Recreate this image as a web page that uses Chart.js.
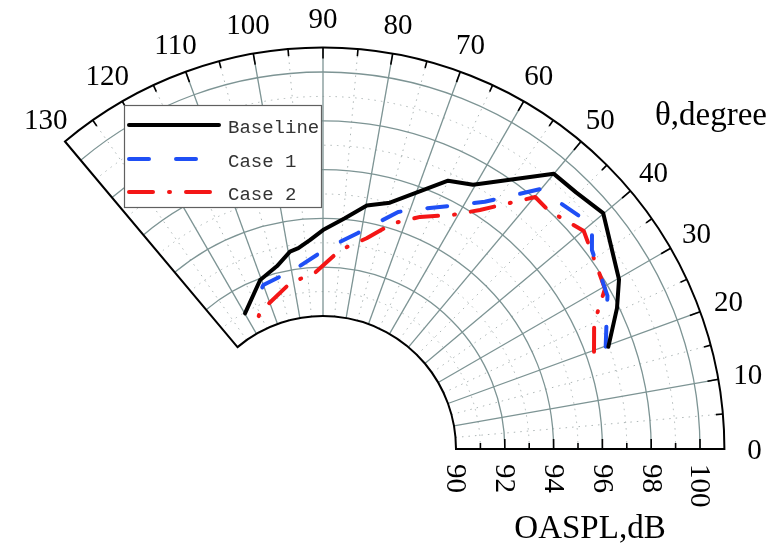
<!DOCTYPE html>
<html>
<head>
<meta charset="utf-8">
<script src="https://cdn.jsdelivr.net/npm/chart.js@4.4.0/dist/chart.umd.min.js"></script>
<style>
  html, body { margin: 0; padding: 0; background: #fff; }
</style>
</head>
<body>
<canvas id="polarChart" width="774" height="546"></canvas>
<script>
// --- Data: theta in degrees, OASPL in dB ---
const baselineTheta = [19.7, 25.6, 29.8, 40.1, 45.4, 50.0, 60.4, 65.0, 74.8, 79.8, 84.6, 90.0, 93.6, 97.0, 99.5, 104.1, 110.4, 119.9];
const baselineDb    = [96.97, 97.91, 98.53, 99.56, 99.32, 99.27, 97.00, 96.68, 95.01, 94.69, 94.05, 93.52, 93.13, 92.84, 92.75, 92.28, 91.94, 90.96];

const case1Theta = [19.9, 28.3, 36.5, 39.8, 50.1, 56.8, 62.4, 69.0, 72.4, 80.8, 88.9, 97.2, 99.7, 102.9, 110.0, 115.0, 117.0];
const case1Db    = [96.87, 97.79, 98.26, 98.90, 98.43, 96.66, 95.79, 95.07, 94.74, 93.52, 92.77, 92.11, 92.20, 91.86, 91.70, 91.14, 91.04];

const case2Theta = [19.75, 24.9, 29.6, 39.9, 46.5, 49.9, 56.7, 61.2, 67.3, 72.7, 78.3, 85.1, 92.6, 101.2, 114.7, 119.4];
const case2Db    = [96.35, 96.80, 97.84, 98.48, 98.00, 98.05, 96.27, 95.49, 94.86, 94.24, 93.37, 92.73, 91.78, 91.48, 90.73, 90.23];

const seriesNames = ["Baseline", "Case 1", "Case 2"];
const thetaTicks = [0, 10, 20, 30, 40, 50, 60, 70, 80, 90, 100, 110, 120, 130];
const dbTicks = [90, 92, 94, 96, 98, 100];
const thetaTitle = "\u03b8,degree";
const dbTitle = "OASPL,dB";

// --- Geometry of the sector ---
const W = 774, H = 546;
const CX = 323, CY = 449;        // pixel position of the polar origin
const PX_PER_DB = 24.4;
const R_MIN = 90, R_MAX = 101;
const HOLE = 133 / PX_PER_DB;    // 90 dB sits this far from the origin
const THETA_MAX = 130;

function toPoints(thetas, dbs){
    return thetas.map((t, i) => {
        let r = dbs[i] - R_MIN + HOLE;
        let a = t * Math.PI / 180;
        return {x: r * Math.cos(a), y: r * Math.sin(a)};
    });
}

const rad = d => -d * Math.PI / 180;

// --- Grid, frame, ticks and labels ---
const polarFrame = {
    id: 'polarFrame',
    beforeDatasetsDraw(chart){
        const ctx = chart.ctx;
        const xs = chart.scales.x, ys = chart.scales.y;
        const cx = xs.getPixelForValue(0), cy = ys.getPixelForValue(0);
        const rpx = db => xs.getPixelForValue(db - R_MIN + HOLE) - cx;
        const r0 = rpx(R_MIN), r1 = rpx(R_MAX);

        ctx.save();

        // dotted minor grid
        ctx.strokeStyle = '#adb6b6';
        ctx.lineWidth = 1;
        ctx.setLineDash([1.5, 5]);
        for (let db = 91; db < R_MAX; db += 2){
            ctx.beginPath();
            ctx.arc(cx, cy, rpx(db), 0, rad(THETA_MAX), true);
            ctx.stroke();
        }
        for (let t = 5; t < THETA_MAX; t += 10){
            ctx.beginPath();
            ctx.moveTo(cx + r0 * Math.cos(rad(t)), cy + r0 * Math.sin(rad(t)));
            ctx.lineTo(cx + r1 * Math.cos(rad(t)), cy + r1 * Math.sin(rad(t)));
            ctx.stroke();
        }
        ctx.setLineDash([]);

        // major grid
        ctx.strokeStyle = '#7d9494';
        ctx.lineWidth = 1.3;
        dbTicks.forEach(db => {
            if (db === R_MIN) return;
            ctx.beginPath();
            ctx.arc(cx, cy, rpx(db), 0, rad(THETA_MAX), true);
            ctx.stroke();
        });
        for (let t = 10; t < THETA_MAX; t += 10){
            ctx.beginPath();
            ctx.moveTo(cx + r0 * Math.cos(rad(t)), cy + r0 * Math.sin(rad(t)));
            ctx.lineTo(cx + r1 * Math.cos(rad(t)), cy + r1 * Math.sin(rad(t)));
            ctx.stroke();
        }

        // black frame
        ctx.strokeStyle = '#000';
        ctx.lineWidth = 2;
        ctx.beginPath();
        ctx.arc(cx, cy, r1, 0, rad(THETA_MAX), true);
        ctx.lineTo(cx + r0 * Math.cos(rad(THETA_MAX)), cy + r0 * Math.sin(rad(THETA_MAX)));
        ctx.arc(cx, cy, r0, rad(THETA_MAX), 0, false);
        ctx.closePath();
        ctx.stroke();

        // ticks on outer arc (every 5 deg, pointing inward)
        ctx.lineWidth = 1.6;
        for (let t = 5; t < THETA_MAX; t += 5){
            let len = t % 10 === 0 ? 11 : 7;
            let a = rad(t);
            ctx.beginPath();
            ctx.moveTo(cx + r1 * Math.cos(a), cy + r1 * Math.sin(a));
            ctx.lineTo(cx + (r1 - len) * Math.cos(a), cy + (r1 - len) * Math.sin(a));
            ctx.stroke();
        }
        // ticks on the radial axis (every 1 dB, pointing up)
        for (let db = R_MIN + 1; db < R_MAX; db++){
            let len = db % 2 === 0 ? 10 : 6;
            let x = cx + rpx(db);
            ctx.beginPath();
            ctx.moveTo(x, cy);
            ctx.lineTo(x, cy - len);
            ctx.stroke();
        }

        // angle labels
        ctx.fillStyle = '#000';
        ctx.font = '29px "Liberation Serif", "Times New Roman", serif';
        ctx.textAlign = 'center';
        ctx.textBaseline = 'alphabetic';
        const rl = r1 + 30;
        thetaTicks.forEach(t => {
            let a = rad(t);
            ctx.fillText(String(t), cx + rl * Math.cos(a), cy + rl * Math.sin(a) + 10);
        });

        // dB labels, rotated
        dbTicks.forEach(db => {
            ctx.save();
            ctx.translate(cx + rpx(db), cy + 15);
            ctx.rotate(Math.PI / 2);
            ctx.textAlign = 'left';
            ctx.textBaseline = 'middle';
            ctx.fillText(String(db), 0, 1);
            ctx.restore();
        });

        // axis titles
        ctx.font = '33px "Liberation Serif", "Times New Roman", serif';
        ctx.textAlign = 'center';
        ctx.fillText(dbTitle, 590, 538);
        ctx.textAlign = 'left';
        ctx.font = '33px "Liberation Serif", "Times New Roman", serif';
        ctx.fillText(thetaTitle, 655, 125);

        ctx.restore();
    }
};

// --- Boxed legend in the top-left corner ---
const boxLegend = {
    id: 'boxLegend',
    afterDraw(chart){
        const ctx = chart.ctx;
        const x = 124, y = 105, w = 197, h = 102;
        ctx.save();
        ctx.fillStyle = '#fff';
        ctx.fillRect(x, y, w, h);
        ctx.strokeStyle = '#606060';
        ctx.lineWidth = 1.2;
        ctx.strokeRect(x + 0.5, y + 0.5, w, h);

        const rows = [125, 159, 192];
        ctx.font = '19px "Liberation Mono", "DejaVu Sans Mono", monospace';
        ctx.textBaseline = 'middle';
        chart.data.datasets.forEach((ds, i) => {
            ctx.strokeStyle = ds.borderColor;
            ctx.lineWidth = ds.borderWidth;
            ctx.lineCap = 'round';
            ctx.setLineDash(ds.borderDash || []);
            ctx.beginPath();
            ctx.moveTo(129, rows[i]);
            ctx.lineTo(219, rows[i]);
            ctx.stroke();
            ctx.setLineDash([]);
            ctx.fillStyle = '#333';
            ctx.fillText(ds.label, 228, rows[i] + 3);
        });
        ctx.restore();
    }
};

const lineDefaults = {showLine: true, pointRadius: 0, tension: 0, borderCapStyle: 'round', borderJoinStyle: 'round', fill: false};

new Chart(document.getElementById('polarChart'), {
    type: 'scatter',
    data: {
        datasets: [
            {...lineDefaults, label: seriesNames[0], data: toPoints(baselineTheta, baselineDb), borderColor: '#000000', borderWidth: 4, borderDash: []},
            {...lineDefaults, label: seriesNames[1], data: toPoints(case1Theta, case1Db), borderColor: '#1f4ff5', borderWidth: 4, borderDash: [20, 27]},
            {...lineDefaults, label: seriesNames[2], data: toPoints(case2Theta, case2Db), borderColor: '#f41616', borderWidth: 4, borderDash: [24, 16, 1, 16]}
        ]
    },
    options: {
        responsive: false,
        animation: false,
        devicePixelRatio: 1,
        layout: {padding: 0},
        plugins: {legend: {display: false}, tooltip: {enabled: false}},
        scales: {
            x: {type: 'linear', display: false, min: -CX / PX_PER_DB, max: (W - CX) / PX_PER_DB},
            y: {type: 'linear', display: false, min: -(H - CY) / PX_PER_DB, max: CY / PX_PER_DB}
        }
    },
    plugins: [polarFrame, boxLegend]
});
</script>
</body>
</html>
